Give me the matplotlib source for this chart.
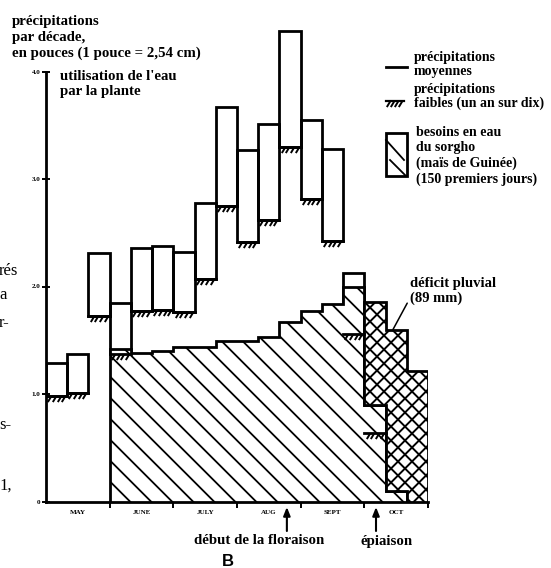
import numpy as np
import matplotlib
matplotlib.use("Agg")
import matplotlib.pyplot as plt
from matplotlib.patches import Polygon, Rectangle
from matplotlib.path import Path
from matplotlib.lines import Line2D
from matplotlib.collections import LineCollection

# rainfall per ten-day period (decade), in inches, May to October
months = ["MAY", "JUNE", "JULY", "AUG", "SEPT", "OCT"]
mean_rain = [1.29, 1.37, 2.31, 1.85, 2.36, 2.38, 2.32, 2.78, 3.67, 3.27, 3.51, 4.38,
             3.55, 3.28, 2.13, 0.90, 0.10, 0.00]
low_rain = [0.98, 1.01, 1.73, 1.37, 1.77, 1.78, 1.76, 2.07, 2.75, 2.41, 2.62, 3.30,
            2.81, 2.42, 1.56, 0.64, np.nan, np.nan]
# sorghum water use, first 150 days (from the first decade of June)
need_start = 3
sorghum_need = [1.42, 1.38, 1.40, 1.44, 1.44, 1.49, 1.49, 1.53, 1.67, 1.77, 1.84,
                2.00, 1.86, 1.60, 1.21]
y_ticks = [0, 1, 2, 3, 4]
y_tick_labels = ["0", "1.0", "2.0", "3.0", "4.0"]
flowering = 11.35   # début de la floraison
heading = 15.55     # épiaison

W, H, DPI = 551, 568, 100
SERIF = "Liberation Serif"
LW = 2.0


def fx(x):
    return x / W


def fy(y):
    return 1 - y / H


fig = plt.figure(figsize=(W / DPI, H / DPI), dpi=DPI)
ax = fig.add_axes([fx(46), fy(501.5), (428 - 46) / W, (501.5 - 20) / H])
n = len(mean_rain)
ax.set_xlim(0, n)
ax.set_ylim(0, (501.5 - 20) / 107.5)


def hatch_lines(patch, spacing, directions, lw=1.3):
    """Draw parallel lines (in inches) clipped to a patch."""
    bb = ax.get_position()
    x0, x1 = bb.x0 * W / DPI, bb.x1 * W / DPI
    y0, y1 = bb.y0 * H / DPI, bb.y1 * H / DPI
    segs = []
    for d in directions:
        if d == "\\":
            for c in np.arange(x0 + y0, x1 + y1, spacing):
                segs.append([(x0 - 1, c - x0 + 1), (x1 + 1, c - x1 - 1)])
        else:
            for c in np.arange(y0 - x1, y1 - x0, spacing):
                segs.append([(x0 - 1, x0 - 1 + c), (x1 + 1, x1 + 1 + c)])
    lc = LineCollection(segs, colors="black", linewidths=lw,
                        transform=fig.dpi_scale_trans, zorder=patch.get_zorder() + 0.05)
    ax.add_collection(lc, autolim=False)
    lc.set_clip_path(patch)


def step_outline(xs, tops):
    pts = []
    for x, v in zip(xs, tops):
        pts += [(x, v), (x + 1, v)]
    return pts


# rainfall boxes: mean on top, one-year-in-ten value at the bottom
for d, (m, lo) in enumerate(zip(mean_rain, low_rain)):
    if np.isnan(lo):
        continue
    ax.add_patch(Rectangle((d, lo), 1, m - lo, fill=False, ec="black", lw=LW, zorder=2))

# sorghum needs covered by rain
need_x = np.arange(need_start, need_start + len(sorghum_need))
covered = np.minimum(sorghum_need, np.array(mean_rain)[need_x])
pts = [(need_start, 0)] + step_outline(need_x, covered) + [(need_x[-1] + 1, 0)]
need_patch = Polygon(pts, closed=True, fc="white", ec="none", zorder=3)
ax.add_patch(need_patch)
hatch_lines(need_patch, 0.21, ["\\"])
ax.add_patch(Polygon(pts, closed=True, fill=False, ec="black", lw=LW, zorder=3.2))

# rainfall deficit
short = np.array(mean_rain)[need_x] < np.array(sorghum_need)
dx = need_x[short]
top = step_outline(dx, np.array(sorghum_need)[short])
bot = step_outline(dx, np.array(mean_rain)[dx])[::-1]
def_pts = top + bot
def_patch = Polygon(def_pts, closed=True, fc="white", ec="none", zorder=3.4)
ax.add_patch(def_patch)
hatch_lines(def_patch, 0.14, ["\\", "/"], lw=1.4)
ax.add_patch(Polygon(def_pts, closed=True, fill=False, ec="black", lw=LW, zorder=3.6))

# "////" marks under the low-rainfall lines
slash = Path([(-0.3, -1.0), (0.3, 0.0)], [Path.MOVETO, Path.LINETO])
for d, lo in enumerate(low_rain):
    if np.isnan(lo):
        continue
    ax.plot([d, d + 1], [lo, lo], color="black", lw=LW, zorder=5)
    ax.plot(d + np.array([0.15, 0.37, 0.59, 0.81]), [lo] * 4, ls="none",
            marker=slash, ms=8, mew=1.4, mec="black", zorder=5)

# axes
for s in ["top", "right"]:
    ax.spines[s].set_visible(False)
ax.spines["left"].set_bounds(0, 4)
ax.spines["bottom"].set_bounds(0, n)
ax.spines["left"].set_linewidth(LW)
ax.spines["bottom"].set_linewidth(LW)
ax.set_yticks(y_ticks, y_tick_labels)
ax.tick_params(axis="y", direction="inout", length=6, width=1.4, labelsize=5, pad=1)
ax.set_xticks(np.arange(3, n + 1, 3), [])
ax.tick_params(axis="x", direction="out", length=4, width=1.4)
ax.set_xticks(np.arange(1.5, n, 3), months, minor=True)
ax.tick_params(axis="x", which="minor", length=0, labelsize=5, pad=6)
for lab in ax.get_yticklabels() + ax.get_xticklabels(minor=True):
    lab.set_fontweight("bold")
    lab.set_family(SERIF)

cap = dict(family=SERIF, fontweight="bold", fontsize=10.7, va="center")
fig.text(fx(12), fy(21), "précipitations", **cap)
fig.text(fx(12), fy(37), "par décade,", **cap)
fig.text(fx(12), fy(53), "en pouces (1 pouce = 2,54 cm)", **cap)
fig.text(fx(60), fy(77), "utilisation de l'eau", **cap)
fig.text(fx(60), fy(91), "par la plante", **cap)

# legend
leg = dict(cap, fontsize=10)
fig.add_artist(Line2D([fx(386), fx(407)], [fy(67), fy(67)], color="black", lw=LW))
fig.text(fx(414), fy(57), "précipitations", **leg)
fig.text(fx(414), fy(71), "moyennes", **leg)
fig.text(fx(414), fy(90), "précipitations", **leg)
fig.text(fx(414), fy(103), "faibles (un an sur dix)", **leg)
fig.add_artist(Line2D([fx(386), fx(404)], [fy(101), fy(101)], color="black", lw=1.6))
fig.add_artist(Line2D(fx(np.array([388, 392, 396, 400])), [fy(101)] * 4, ls="none",
                      marker=slash, ms=8, mew=1.4, mec="black"))
box = Rectangle((fx(386), fy(176)), fx(407) - fx(386), fy(133) - fy(176),
                transform=fig.transFigure, fill=False, ec="black", lw=LW)
fig.add_artist(box)
for a, b in [((386, 140), (404, 160)), ((390, 160), (406, 176))]:
    fig.add_artist(Line2D([fx(a[0]), fx(b[0])], [fy(a[1]), fy(b[1])], color="black", lw=1.3))
fig.text(fx(416), fy(132), "besoins en eau", **leg)
fig.text(fx(416), fy(148), "du sorgho", **leg)
fig.text(fx(416), fy(163), "(maïs de Guinée)", **leg)
fig.text(fx(416), fy(179), "(150 premiers jours)", **leg)

# deficit label
ax.annotate("déficit pluvial\n(89 mm)", xy=(16.35, 1.6), xycoords="data",
            xytext=(fx(410), fy(291)), textcoords="figure fraction",
            family=SERIF, fontweight="bold", fontsize=10.5, va="center", ha="left",
            linespacing=1.15,
            arrowprops=dict(arrowstyle="-", color="black", lw=1.1,
                            shrinkA=0, shrinkB=0, relpos=(0.0, 0.25)))

# stage arrows
for xd in [flowering, heading]:
    ax.annotate("", xy=(xd, fy(507)), xycoords=("data", "figure fraction"),
                xytext=(xd, fy(531)), textcoords=("data", "figure fraction"),
                arrowprops=dict(arrowstyle="-|>,head_length=0.5,head_width=0.2",
                                color="black", lw=1.5, shrinkA=0, shrinkB=0))
fig.text(fx(259), fy(541), "début de la floraison", ha="center", **cap)
fig.text(fx(387), fy(541), "épiaison", ha="center", **cap)
fig.text(fx(228), fy(562), "B", ha="center", va="center", family="Liberation Sans",
         fontweight="bold", fontsize=12)

# cut-off body text on the left margin
body = dict(family=SERIF, fontsize=12, va="center", ha="left")
fig.text(fx(-1), fy(271), "rés", **body)
fig.text(fx(-1), fy(295), "a", **body)
fig.text(fx(-1), fy(323), "r-", **body)
fig.text(fx(-1), fy(425), "s-", **body)
fig.text(fx(-1), fy(486), "1,", **body)

fig.savefig("out.png", dpi=DPI)
